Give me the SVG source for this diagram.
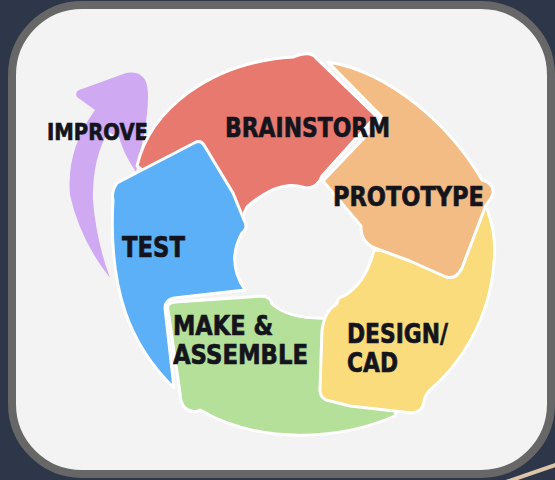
<svg xmlns="http://www.w3.org/2000/svg" width="555" height="480" viewBox="0 0 555 480">
  <style>
    .seg { stroke: #ffffff; stroke-width: 3; stroke-linejoin: round; }
    .lbl { font-family: "DejaVu Sans", "Liberation Sans", sans-serif; font-weight: bold; fill: #14141c; stroke: #14141c; stroke-width: 0.7; }
  </style>
  <rect x="0" y="0" width="555" height="480" fill="#2e3649"/>
  <line x1="503" y1="483" x2="558" y2="464" stroke="#dcc5a9" stroke-width="4"/>
  <rect id="card" x="12" y="5" width="539" height="469" rx="70" ry="70" fill="#f3f3f3" stroke="#676767" stroke-width="8"/>

  <g id="connectors">
    <path fill="#cfa9f2" d="M110 278 Q80 240 70 195 Q66 150 95 110 L77 97 Q74 91 82 89 L126 73 Q143 70 147 85 Q150 100 144 135 L136 172 Q124 155 119 137 L108 132 Q92 160 93 200 Q96 240 110 278 Z"/>
    <text class="lbl" x="47" y="140" font-size="23" textLength="101" lengthAdjust="spacingAndGlyphs">IMPROVE</text>
  </g>

  <g id="node-make-assemble">
    <path class="seg" fill="#b4e09a" d="M168 310 Q166 303 175 302 L262 296 Q271 297 272 304 Q290 320 330 318 L410 360 L395 416 C340 440 260 445 200 410 Q193 414 185 408 Q180 402 180 393 Z"/>
    <text class="lbl" x="173" y="335" font-size="26" textLength="100" lengthAdjust="spacingAndGlyphs">MAKE &amp;</text>
    <text class="lbl" x="173" y="364" font-size="26" textLength="135" lengthAdjust="spacingAndGlyphs">ASSEMBLE</text>
  </g>

  <g id="node-design-cad">
    <path class="seg" fill="#fadc7c" d="M487 209 Q497 235 494 262 C490 320 460 365 428 392 Q424 398 424 402 Q422 412 412 413 L350 406 L326 400 Q319 396 320 388 L322 330 Q325 310 337 304 Q337 297 344 296 Q366 283 374 250 L440 256 L480 205 Z"/>
    <text class="lbl" x="347" y="343" font-size="27" textLength="101" lengthAdjust="spacingAndGlyphs">DESIGN/</text>
    <text class="lbl" x="347" y="372" font-size="27" textLength="51" lengthAdjust="spacingAndGlyphs">CAD</text>
  </g>

  <g id="node-prototype">
    <path class="seg" fill="#f3bc84" d="M328 62 C390 72 450 125 482 180 Q494 183 493 193 Q492 198 486 205 L462 268 Q456 280 446 277 L410 261 L372 247 Q360 240 361 226 L323 181 L383 118 Z"/>
    <text class="lbl" x="333" y="206" font-size="26" textLength="151" lengthAdjust="spacingAndGlyphs" fill="#1c1c2e">PROTOTYPE</text>
  </g>

  <g id="node-brainstorm">
    <path class="seg" fill="#e8796f" d="M137 166 C150 110 210 62 293 57 Q311 50 316 58 L376 116 L322 176 Q318 188 306 188 Q280 178 247 207 L240 222 L215 176 L150 176 Z"/>
    <text class="lbl" x="225" y="137" font-size="27" textLength="165" lengthAdjust="spacingAndGlyphs">BRAINSTORM</text>
  </g>

  <g id="node-test">
    <path class="seg" fill="#5cb0f8" d="M117 183 L196 142 Q201 140 204 145 L233 193 L244 220 Q249 228 242 233 Q226 262 245 290 L174 298 Q165 300 165 308 L174 388 C130 345 108 290 113 200 Q111 192 117 183 Z"/>
    <text class="lbl" x="122" y="257" font-size="28" textLength="63" lengthAdjust="spacingAndGlyphs">TEST</text>
  </g>
</svg>
